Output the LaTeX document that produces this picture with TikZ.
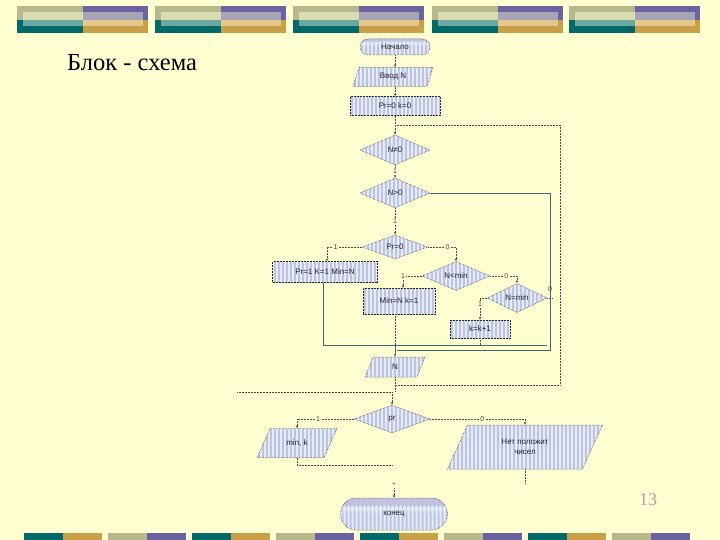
\documentclass[tikz,border=0pt]{standalone}
\usepackage{fontspec}
\setmainfont{Liberation Serif}
\newfontfamily\flowfont{Liberation Sans}
\usetikzlibrary{shapes.geometric,arrows.meta}
\definecolor{bg}{HTML}{FFFFD2}
\definecolor{khaki}{HTML}{B8B88C}
\definecolor{purp}{HTML}{6B63A0}
\definecolor{tealc}{HTML}{006A6A}
\definecolor{gold}{HTML}{C8A048}
\definecolor{pale}{HTML}{D8DCB0}
\definecolor{tealL}{HTML}{6BA8A0}
\definecolor{purpL}{HTML}{A8A4B8}
\definecolor{goldL}{HTML}{E2C88C}
\definecolor{fillB}{HTML}{E0EEFA}
\definecolor{fillL}{HTML}{C2C2E0}
\definecolor{tealD}{HTML}{3A6A6A}
\tikzset{
 shp/.style={fill=fillB, draw=black!85, densely dotted, line width=0.5pt,
   path picture={\foreach \i in {1,5,...,161}{\fill[fillL] (path picture bounding box.north west) ++(\i pt,0pt) rectangle ++(2pt,-60pt);}}},
 txt/.style={font=\flowfont\fontsize{8}{9.5}\selectfont, text=black!85, align=center},
 term/.style={shp, txt, rectangle, inner sep=0},
 proc/.style={shp, txt, rectangle, inner sep=0},
 dec/.style={shp, txt, diamond, inner sep=0},
 lbl/.style={font=\flowfont\fontsize{7}{8}\selectfont, text=black!75, inner sep=0.6pt},
 dl/.style={densely dotted, line width=0.5pt, draw=black!70},
 sl/.style={line width=0.6pt, draw=tealD},
 arr/.style={-{Stealth[length=3pt,width=2.4pt]}},
}
\newcommand\mypara[7]{%
 \path[shp] ({#2-#4/2+#6},{#3-#5/2}) -- ({#2+#4/2},{#3-#5/2}) -- ({#2+#4/2-#6},{#3+#5/2}) -- ({#2-#4/2},{#3+#5/2}) -- cycle;
 \node[txt, minimum width=#4, minimum height=#5, inner sep=0] (#1) at (#2,#3) {#7};}
\begin{document}
\begin{tikzpicture}[x=1pt,y=-1pt]
\useasboundingbox (0,0) rectangle (720,540);
\fill[bg] (0,0) rectangle (720,540);
% top decoration
\foreach \x in {17,155,293,432,569} {
 \fill[khaki] (\x,6) rectangle ++(66,14);
 \fill[purp] (\x+66,6) rectangle ++(65,14);
 \fill[tealc] (\x,20) rectangle ++(66,13);
 \fill[gold] (\x+66,20) rectangle ++(65,13);
 \fill[pale] (\x+6,12) rectangle (\x+66,20);
 \fill[tealL] (\x+6,20) rectangle (\x+66,26);
 \fill[purpL] (\x+66,12) rectangle (\x+126,20);
 \fill[goldL] (\x+66,20) rectangle (\x+126,26);
}
% bottom decoration
\foreach \x/\ca/\cb in {24/tealc/gold,108/khaki/purp,192/tealc/gold,276/khaki/purp,360/tealc/gold,444/khaki/purp,528/tealc/gold,612/khaki/purp} {
 \fill[\ca] (\x,533) rectangle ++(39,7);
 \fill[\cb] (\x+39,533) rectangle ++(39,7);
}
% title and page number
\node[anchor=base west, font=\fontsize{24.5}{26}\selectfont, inner sep=0] (title) at (67,71) {Блок - схема};
\node[font=\fontsize{18}{20}\selectfont, text=black!35, inner sep=0] (pg) at (648,500) {13};
% flowchart nodes
\node[term, minimum width=70, minimum height=16, rounded corners=8] (start) at (395,47) {Начало};
\mypara{inp}{393}{77}{80}{19}{6}{Ввод N}
\node[proc, minimum width=90, minimum height=19] (init) at (395,106) {Pr=0 k=0};
\node[dec, minimum width=70, minimum height=30] (ne) at (395,150) {N≠0};
\node[dec, minimum width=70, minimum height=30] (gt) at (395,193) {N>0};
\node[dec, minimum width=66, minimum height=24] (prz) at (395,247) {Pr=0};
\node[proc, minimum width=105, minimum height=21] (p1) at (325,272) {Pr=1 K=1 Min=N};
\node[dec, minimum width=68, minimum height=27] (lt) at (456,276) {N<min};
\node[proc, minimum width=72, minimum height=26] (mn) at (399,301) {Min=N k=1};
\node[dec, minimum width=60, minimum height=24] (eq) at (517,298) {N=min};
\node[proc, minimum width=60, minimum height=18] (kk) at (480,329) {k=k+1};
\mypara{outN}{395}{367}{60}{20}{8}{N}
\node[dec, minimum width=76, minimum height=28] (pr) at (392,419) {pr};
\mypara{outmin}{297}{443}{80}{29}{13}{min, k}
\mypara{nopos}{525}{447}{155}{44}{20}{Нет положит\\чисел}
\node[term, minimum width=107, minimum height=32, rounded corners=16] (stop) at (394,514) {конец};
% coordinates
\coordinate (j1) at (395,125);
\coordinate (rt) at (560,125);
\coordinate (rb) at (560,385);
\coordinate (nb) at (395,385);
\coordinate (g1) at (550,193);
\coordinate (g2) at (550,350);
\coordinate (g3) at (397,350);
\coordinate (m0) at (323,345);
\coordinate (m1) at (395,345);
\coordinate (m2) at (547,345);
\coordinate (pl) at (327,247);
\coordinate (pr1) at (456,247);
\coordinate (ll) at (403,276);
\coordinate (lr) at (517,276);
\coordinate (el) at (480,298);
\coordinate (er) at (552,298);
\coordinate (bl) at (237,392);
\coordinate (bm) at (392,392);
\coordinate (pl2) at (297,419);
\coordinate (pr2) at (525,419);
\coordinate (mb) at (297,465);
\coordinate (mb2) at (393,465);
\coordinate (nb2) at (525,483);
% connectors
\draw[dl,arr] (start.south) -- (start.south |- inp.north);
\draw[dl,arr] (start.south |- inp.south) -- (init.north);
\draw[dl] (init.south) -- (j1);
\draw[dl,arr] (j1) -- (ne.north);
\draw[dl] (outN.south) -- (nb) -- (rb) -- (rt) -- (j1);
\draw[dl,arr] (ne.south) -- node[lbl,fill=bg]{1} (gt.north);
\draw[dl,arr] (gt.south) -- node[lbl,fill=bg]{1} (prz.north);
\draw[sl] (gt.east) -- (g1) -- (g2) -- (g3);
\draw[dl,arr] (prz.west) -- node[lbl,fill=bg,pos=0.75]{1} (pl) -- (pl |- p1.north);
\draw[dl,arr] (prz.east) -- node[lbl,fill=bg,pos=0.7]{0} (pr1) -- (lt.north);
\draw[dl,arr] (lt.west) -- (ll) node[lbl,fill=bg]{1} -- (ll |- mn.north);
\draw[dl,arr] (lt.east) -- node[lbl,fill=bg,pos=0.6]{0} (lr) -- (eq.north);
\draw[dl,arr] (eq.west) -- (el) -- node[lbl,fill=bg,pos=0.3]{1} (kk.north);
\draw[dl] (eq.east) -- (er);
\node[lbl] (l0) at (550,289) {0};
\draw[sl] (p1.south -| m0) -- (m0) -- (m2);
\draw[dl] (mn.south -| m1) -- (m1);
\draw[dl] (kk.south) -- (kk.south |- m2);
\draw[sl,arr] (m1) -- (outN.north);
\draw[dl] (outN.south) -- (outN.south |- bm);
\draw[dl] (bl) -- (bm);
\draw[dl,arr] (bm) -- (pr.north);
\draw[dl,arr] (pr.west) -- node[lbl,fill=bg,pos=0.63]{1} (pl2) -- (outmin.north);
\draw[dl,arr] (pr.east) -- node[lbl,fill=bg,pos=0.55]{0} (pr2) -- (nopos.north);
\draw[dl] (outmin.south) -- (mb) -- (mb2);
\draw[dl] (nopos.south) -- (nb2);
\node[lbl] (star) at (394,485) {*};
\draw[dl,arr] (star) -- (stop.north);
\end{tikzpicture}
\end{document}
